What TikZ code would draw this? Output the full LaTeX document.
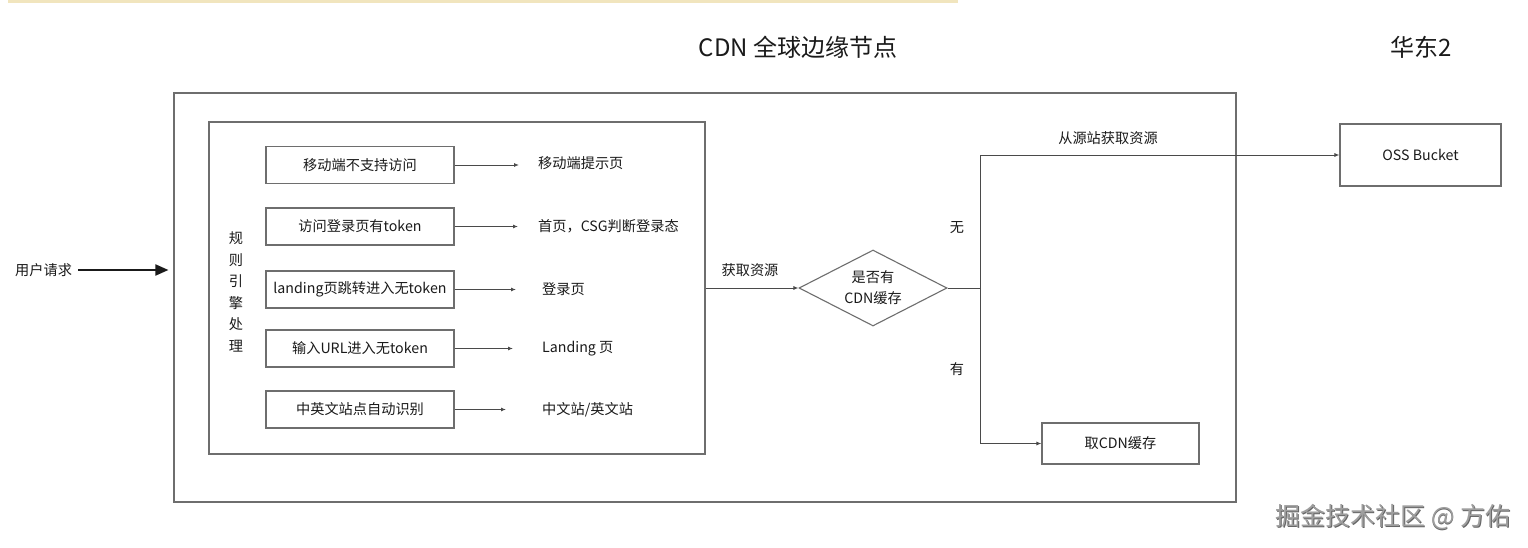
\documentclass[tikz,border=0pt]{standalone}
\usepackage{fontspec}
\setmainfont{Noto Sans CJK SC}
\usetikzlibrary{arrows.meta,shapes.geometric}
\definecolor{boxgray}{HTML}{6E6E6E}
\definecolor{linegray}{HTML}{4A4A4A}
\definecolor{barcol}{HTML}{F1E5BE}
\definecolor{txt}{HTML}{1A1A1A}
\tikzset{
  fs/.style={font=\fontsize{14.2}{16}\selectfont,text=txt},
  rulebox/.style={fs,draw=boxgray,line width=1.1pt,minimum width=188pt,minimum height=37pt,inner sep=0pt},
  lbl/.style={fs,inner sep=0pt,anchor=west},
  conn/.style={draw=linegray,line width=0.9pt,-{Latex[length=5pt,width=4pt]}},
  plain/.style={draw=linegray,line width=0.9pt},
}
\begin{document}
\begin{tikzpicture}[x=1pt,y=-1pt]
\useasboundingbox (0,0) rectangle (1528,548);
\fill[white] (0,0) rectangle (1528,548);
\fill[barcol] (8,0) rectangle (958,3);
% titles
\node[font=\fontsize{24}{27}\selectfont,text=txt,inner sep=0pt] (title) at (798,47) {CDN 全球边缘节点};
\node[font=\fontsize{24}{27}\selectfont,text=txt,inner sep=0pt] (east) at (1421,47) {华东2};
% boxes
\node[draw=boxgray,line width=1.1pt,minimum width=1062pt,minimum height=409pt,inner sep=0pt] (outer) at (705,297.5) {};
\node[draw=boxgray,line width=1.1pt,minimum width=496pt,minimum height=332pt,inner sep=0pt] (inner) at (457,288) {};
\node[rulebox] (r1) at (360,165) {移动端不支持访问};
\node[rulebox] (r2) at (360,226.5) {访问登录页有token};
\node[rulebox] (r3) at (360,289.5) {landing页跳转进入无token};
\node[rulebox] (r4) at (360,348.5) {输入URL进入无token};
\node[rulebox] (r5) at (360,409.5) {中英文站点自动识别};
\coordinate (e1) at (519,165);
\coordinate (e2) at (518,226.5);
\coordinate (e3) at (516,289.5);
\coordinate (e4) at (513,348.5);
\coordinate (e5) at (506,409.5);
\draw[conn] (r1.east) -- (e1);
\draw[conn] (r2.east) -- (e2);
\draw[conn] (r3.east) -- (e3);
\draw[conn] (r4.east) -- (e4);
\draw[conn] (r5.east) -- (e5);
\node[lbl] (t1) at (538,163) {移动端提示页};
\node[lbl] (t2) at (538,226.5) {首页，CSG判断登录态};
\node[lbl] (t3) at (542,289.5) {登录页};
\node[lbl] (t4) at (542,348.5) {Landing 页};
\node[lbl] (t5) at (542,409.5) {中文站/英文站};
\node[font=\fontsize{14.2}{21.6}\selectfont,text=txt,align=center,inner sep=0pt] (engine) at (236,292) {规\\则\\引\\擎\\处\\理};
% user request
\node[lbl] (user) at (15,270) {用户请求};
\draw[line width=1.8pt,draw=txt,-{Triangle[length=13pt,width=11pt]}] (user.east) ++(6,0) coordinate (us) -- ([xshift=-5pt]outer.west|-us);
% diamond
\node[diamond,draw=boxgray,line width=1.1pt,minimum width=148pt,minimum height=76pt,inner sep=0pt,aspect=1.95,align=center,font=\fontsize{14.2}{21}\selectfont,text=txt] (dia) at (873,288) {是否有\\CDN缓存};
\draw[conn] (inner.east|-dia.west) -- (dia.west);
\node[fs,inner sep=0pt] (get) at (750,270) {获取资源};
% right side
\node[fs,draw=boxgray,line width=1.1pt,minimum width=161pt,minimum height=62pt,inner sep=0pt] (oss) at (1420.5,155) {OSS Bucket};
\node[fs,draw=boxgray,line width=1.1pt,minimum width=157pt,minimum height=41pt,inner sep=0pt] (cache) at (1120.5,443.5) {取CDN缓存};
\coordinate (j) at (980,288);
\draw[plain] (dia.east) -- (j);
\draw[conn] (j) |- (oss.west);
\draw[conn] (j) |- (cache.west);
\node[fs,inner sep=0pt] (src) at (1108,138) {从源站获取资源};
\node[fs,inner sep=0pt] (no) at (957,228) {无};
\node[fs,inner sep=0pt] (yes) at (957,369) {有};
% watermark
\node[font=\fontsize{25}{28}\selectfont,text=black!60,inner sep=0pt] (wm0) at (1393.8,517.8) {掘金技术社区 @ 方佑};
\node[font=\fontsize{25}{28}\selectfont,text=black!38,inner sep=0pt] (wm) at (1393,517) {掘金技术社区 @ 方佑};
\end{tikzpicture}
\end{document}
